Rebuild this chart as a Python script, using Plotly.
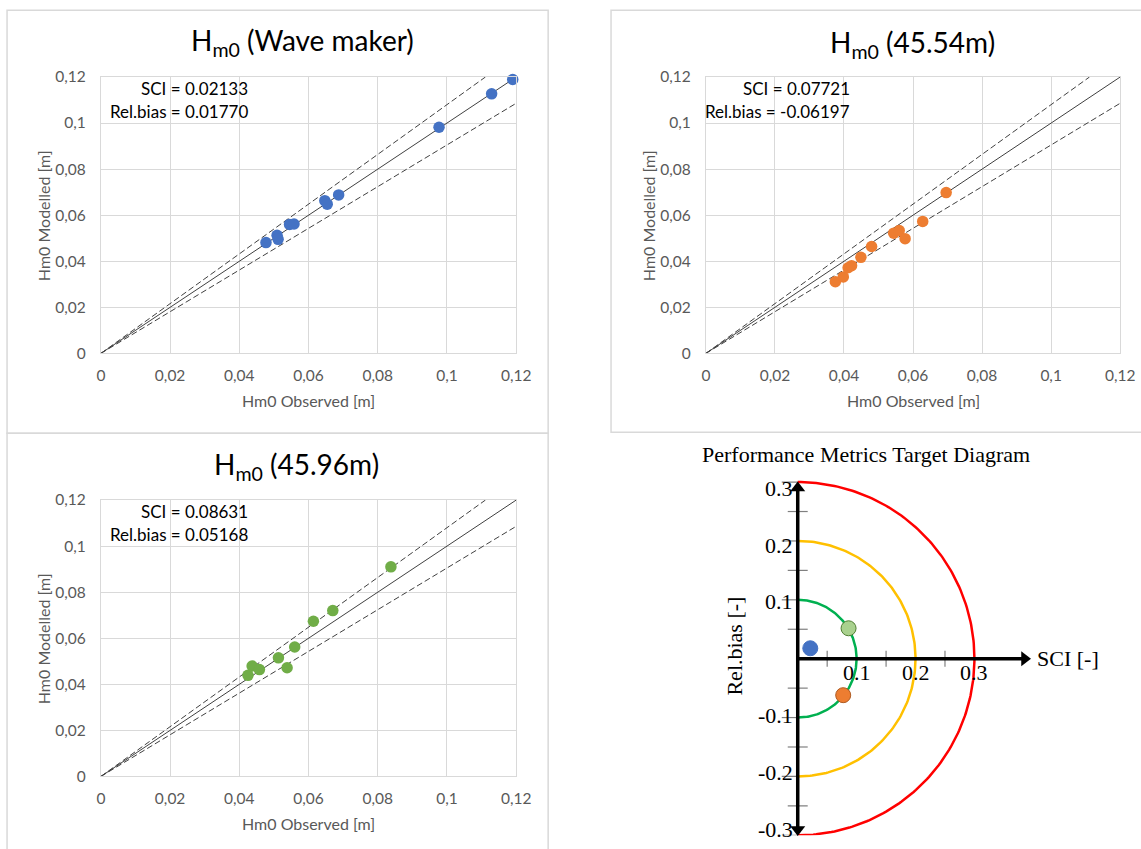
import numpy as np
import plotly.graph_objects as go

# ---------------- data ----------------
tick_vals = [0, 0.02, 0.04, 0.06, 0.08, 0.10, 0.12]
tick_text = ["0", "0,02", "0,04", "0,06", "0,08", "0,1", "0,12"]

wm_obs = [0.0477, 0.0509, 0.0512, 0.0545, 0.0558, 0.0647, 0.0654, 0.0687, 0.0977, 0.1129, 0.1190]
wm_mod = [0.0481, 0.0513, 0.0495, 0.0560, 0.0562, 0.0663, 0.0648, 0.0688, 0.0982, 0.1127, 0.1189]

d54_obs = [0.0375, 0.0398, 0.0412, 0.0422, 0.0449, 0.0480, 0.0544, 0.0560, 0.0577, 0.0628, 0.0696]
d54_mod = [0.0311, 0.0332, 0.0372, 0.0381, 0.0417, 0.0464, 0.0522, 0.0533, 0.0498, 0.0573, 0.0698]

d96_obs = [0.0425, 0.0437, 0.0458, 0.0513, 0.0538, 0.0560, 0.0614, 0.0670, 0.0838]
d96_mod = [0.0439, 0.0479, 0.0464, 0.0515, 0.0472, 0.0562, 0.0674, 0.0720, 0.0910]

panel_titles = ["H<sub>m0</sub> (Wave maker)", "H<sub>m0</sub> (45.54m)", "H<sub>m0</sub> (45.96m)"]
sci_values = [0.02133, 0.07721, 0.08631]
bias_values = [0.01770, -0.06197, 0.05168]
series_colors = ["#4472C4", "#ED7D31", "#70AD47"]
target_fill = ["#4472C4", "#ED7D31", "#A9D18E"]
target_edge = ["#4472C4", "#AE5A21", "#507E32"]

upper_slope = 1.08
lower_slope = 0.905

target_radii = [0.1, 0.2, 0.3]
target_colors = ["#00B050", "#FFC000", "#FF0000"]
target_tick_vals = [0.3, 0.2, 0.1, -0.1, -0.2, -0.3]
target_tick_text = ["0.3", "0.2", "0.1", "-0.1", "-0.2", "-0.3"]
sci_tick_vals = [0.1, 0.2, 0.3]
sci_tick_text = ["0.1", "0.2", "0.3"]
minor_ticks = [0.05, 0.15, 0.25]

# ---------------- layout helpers ----------------
# positions below are given in screenshot pixels; the page is captured with a small
# offset and scale, which px/py compensate for.
W, H = 1141, 849
SX, OX = 0.985, 4.0
SY, OY = 0.981, 8.0
def px(x): return min(1.0, max(0.0, (x / SX - OX) / W))
def py(y): return min(1.0, max(0.0, 1 - (y / SY - OY) / H))
def pxu(x): return (x / SX - OX) / W          # unclamped, for shapes
def pyu(y): return 1 - (y / SY - OY) / H

SANS = "Lato"
SERIF = "Liberation Serif"

fig = go.Figure()

panels = [
    dict(obs=wm_obs, mod=wm_mod, box=(101, 517, 75, 352), frame=(7, 549, 8, 432),
         title_xy=(303, 40), txt_right=250, txt_y=(87, 110)),
    dict(obs=d54_obs, mod=d54_mod, box=(707, 1122, 75, 352), frame=(612, 1150, 8, 431),
         title_xy=(914, 42), txt_right=853, txt_y=(87, 110)),
    dict(obs=d96_obs, mod=d96_mod, box=(101, 517, 499, 776), frame=(7, 549, 432, 870),
         title_xy=(297, 465), txt_right=250, txt_y=(510, 534)),
]

annotations = []
shapes = []

for i, p in enumerate(panels):
    n = "" if i == 0 else str(i + 1)
    xa, ya = "x" + n, "y" + n
    x0, x1, y0, y1 = p["box"]
    fig.add_trace(go.Scatter(x=[0, 0.12], y=[0, 0.12], mode="lines", xaxis=xa, yaxis=ya,
                             line=dict(color="#404040", width=1), showlegend=False, hoverinfo="skip"))
    fig.add_trace(go.Scatter(x=[0, 0.12 / upper_slope], y=[0, 0.12], mode="lines", xaxis=xa, yaxis=ya,
                             line=dict(color="#404040", width=1, dash="6px,3px"), showlegend=False, hoverinfo="skip"))
    fig.add_trace(go.Scatter(x=[0, 0.12], y=[0, 0.12 * lower_slope], mode="lines", xaxis=xa, yaxis=ya,
                             line=dict(color="#404040", width=1, dash="6px,3px"), showlegend=False, hoverinfo="skip"))
    fig.add_trace(go.Scatter(x=p["obs"], y=p["mod"], mode="markers", xaxis=xa, yaxis=ya,
                             marker=dict(color=series_colors[i], size=11.5, line=dict(width=0)),
                             cliponaxis=False, showlegend=False))
    axis_common = dict(range=[0, 0.12], tickvals=tick_vals, ticktext=tick_text,
                       showgrid=True, gridcolor="#d9d9d9", gridwidth=1,
                       showline=True, mirror=True, linecolor="#d9d9d9", linewidth=1,
                       zeroline=False, ticks="", fixedrange=True,
                       tickfont=dict(family=SANS, size=15.5, color="#595959"))
    fig.update_layout(**{
        "xaxis" + n: dict(domain=[px(x0), px(x1)], anchor=ya, ticklabelstandoff=8, **axis_common),
        "yaxis" + n: dict(domain=[py(y1), py(y0)], anchor=xa, ticklabelstandoff=11, **axis_common),
    })
    fx0, fx1, fy0, fy1 = p["frame"]
    shapes.append(dict(type="rect", xref="paper", yref="paper", x0=pxu(fx0), x1=pxu(fx1),
                       y0=pyu(fy1), y1=pyu(fy0), line=dict(color="#d9d9d9", width=1.5)))
    tx, ty = p["title_xy"]
    annotations.append(dict(text=panel_titles[i], x=px(tx), y=py(ty), xref="paper", yref="paper",
                            showarrow=False, xanchor="center", yanchor="middle",
                            font=dict(family=SANS, size=28, color="#000000")))
    annotations.append(dict(text=f"SCI = {sci_values[i]:.5f}", x=px(p["txt_right"]), y=py(p["txt_y"][0]),
                            xref="paper", yref="paper", showarrow=False, xanchor="right", yanchor="middle",
                            font=dict(family=SANS, size=17, color="#000000")))
    annotations.append(dict(text=f"Rel.bias = {bias_values[i]:.5f}", x=px(p["txt_right"]), y=py(p["txt_y"][1]),
                            xref="paper", yref="paper", showarrow=False, xanchor="right", yanchor="middle",
                            font=dict(family=SANS, size=17, color="#000000")))
    annotations.append(dict(text="Hm0 Observed [m]", x=px((x0 + x1) / 2), y=py(y1 + 47),
                            xref="paper", yref="paper", showarrow=False, xanchor="center", yanchor="middle",
                            font=dict(family=SANS, size=16, color="#595959")))
    annotations.append(dict(text="Hm0 Modelled [m]", x=px(x0 - 58), y=py((y0 + y1) / 2),
                            xref="paper", yref="paper", showarrow=False, xanchor="center", yanchor="middle",
                            textangle=-90, font=dict(family=SANS, size=16, color="#595959")))

# ---------------- target diagram ----------------
S = 590.0          # screenshot pixels per unit
ox, oy = 799, 658  # screenshot pixel of origin
bx0, bx1, by0, by1 = 690, 1120, 470, 835
fig.update_layout(
    xaxis4=dict(domain=[px(bx0), px(bx1)], range=[(bx0 - ox) / S, (bx1 - ox) / S], visible=False,
                anchor="y4", fixedrange=True),
    yaxis4=dict(domain=[py(by1), py(by0)], range=[-(by1 - oy) / S, (oy - by0) / S], visible=False,
                anchor="x4", fixedrange=True),
)

theta = np.linspace(-np.pi / 2, np.pi / 2, 181)
for r, c in zip(target_radii, target_colors):
    fig.add_trace(go.Scatter(x=r * np.cos(theta), y=r * np.sin(theta), mode="lines",
                             xaxis="x4", yaxis="y4", line=dict(color=c, width=2.5), cliponaxis=False,
                             showlegend=False, hoverinfo="skip"))

# tick marks
tl = 10 / S
tx_, ty_ = [], []
for v in minor_ticks:
    for s in (1, -1):
        tx_ += [-tl, tl, None]
        ty_ += [s * v, s * v, None]
for v in target_tick_vals:
    tx_ += [-tl * 1.6, 0, None]
    ty_ += [v, v, None]
for v in minor_ticks:
    tx_ += [v, v, None]
    ty_ += [-tl * 0.8, tl * 0.8, None]
fig.add_trace(go.Scatter(x=tx_, y=ty_, mode="lines", xaxis="x4", yaxis="y4", cliponaxis=False,
                         line=dict(color="#808080", width=1.2), showlegend=False, hoverinfo="skip"))

# axis lines with arrowheads
fig.add_trace(go.Scatter(x=[0, 0], y=[-0.29, 0.29], mode="lines", xaxis="x4", yaxis="y4", cliponaxis=False,
                         line=dict(color="#000000", width=3.5), showlegend=False, hoverinfo="skip"))
fig.add_trace(go.Scatter(x=[0, 0.385], y=[0, 0], mode="lines", xaxis="x4", yaxis="y4", cliponaxis=False,
                         line=dict(color="#000000", width=3.5), showlegend=False, hoverinfo="skip"))
fig.add_trace(go.Scatter(x=[0, 0, 0.385], y=[0.29, -0.29, 0], mode="markers", xaxis="x4", yaxis="y4",
                         cliponaxis=False,
                         marker=dict(symbol=["triangle-up", "triangle-down", "triangle-right"],
                                     size=13, color="#000000", line=dict(width=0)),
                         showlegend=False, hoverinfo="skip"))

# points
fig.add_trace(go.Scatter(x=sci_values, y=bias_values, mode="markers", xaxis="x4", yaxis="y4",
                         cliponaxis=False,
                         marker=dict(size=15, color=target_fill, line=dict(color=target_edge, width=1)),
                         showlegend=False))

# tick labels (end labels pulled slightly inward, as in the reference)
for v, t in zip(target_tick_vals, target_tick_text):
    annotations.append(dict(text=t, x=-3 / S, y=v * 0.965, xref="x4", yref="y4", showarrow=False,
                            xanchor="right", yanchor="middle",
                            font=dict(family=SERIF, size=22, color="#000000")))
for v, t in zip(sci_tick_vals, sci_tick_text):
    annotations.append(dict(text=t, x=v, y=-14 / S, xref="x4", yref="y4", showarrow=False,
                            xanchor="center", yanchor="middle",
                            font=dict(family=SERIF, size=22, color="#000000")))

annotations.append(dict(text="Performance Metrics Target Diagram", x=px(867), y=py(453),
                        xref="paper", yref="paper", showarrow=False, xanchor="center", yanchor="middle",
                        font=dict(family=SERIF, size=22, color="#000000")))
annotations.append(dict(text="SCI [-]", x=0.402, y=0, xref="x4", yref="y4", showarrow=False,
                        xanchor="left", yanchor="middle",
                        font=dict(family=SERIF, size=22, color="#000000")))
annotations.append(dict(text="Rel.bias [-]", x=px(736), y=py(645), xref="paper", yref="paper",
                        showarrow=False, xanchor="center", yanchor="middle", textangle=-90,
                        font=dict(family=SERIF, size=22, color="#000000")))

fig.update_layout(width=W, height=H, margin=dict(l=0, r=0, t=0, b=0),
                  paper_bgcolor="#ffffff", plot_bgcolor="#ffffff",
                  annotations=annotations, shapes=shapes, showlegend=False)

fig.write_html("out.html")
